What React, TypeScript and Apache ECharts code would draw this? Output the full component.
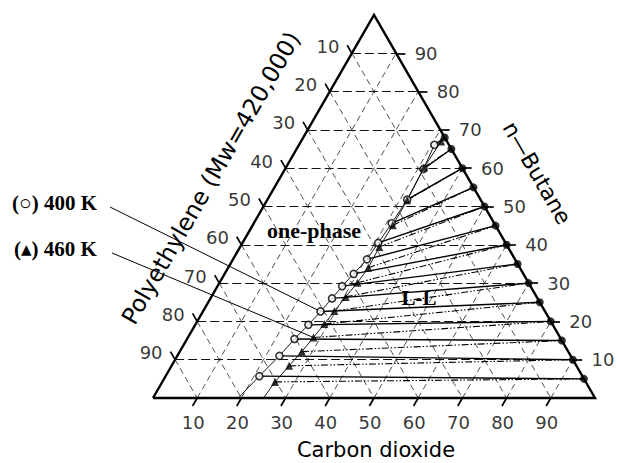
import { useEffect, useRef } from "react";
import * as echarts from "echarts";

// Axis levels (mass %) for grid lines, ticks and tick labels
const gridLevels = [10, 20, 30, 40, 50, 60, 70, 80, 90];
const tickLabels = ["10", "20", "30", "40", "50", "60", "70", "80", "90"];

// Polymer-lean phase (mass %): n-butane and carbon dioxide
const leanButane = [5, 10, 15, 20, 25, 30, 35, 40, 45, 50, 55, 60, 65, 68];
const leanCO2 = [95, 90, 85, 80, 75, 70, 65, 60, 55, 50, 45, 40, 35, 32];

// Polymer-rich phase at 400 K (mass %)
const rich400Butane = [5.7, 11.0, 15.4, 19.1, 22.6, 26.0, 29.2, 32.4, 36.2, 40.5, 45.6, 51.8, 59.8, 66.1];
const rich400CO2 = [21.2, 23.1, 24.3, 25.6, 26.6, 27.5, 28.2, 29.2, 30.3, 30.7, 31.2, 31.6, 31.3, 30.6];

// Polymer-rich phase at 460 K (mass %)
const rich460Butane = [4.2, 8.4, 12.1, 15.8, 19.3, 22.7, 26.4, 30.1, 34.0, 39.4, 45.1, 51.6, 60.2, 67.0];
const rich460CO2 = [25.5, 26.6, 27.6, 28.4, 29.1, 29.7, 30.4, 31.2, 31.7, 31.5, 31.7, 31.7, 31.2, 31.7];

// Where each binodal meets the polyethylene–CO2 edge (CO2 mass %)
const edge400CO2 = 19.3;
const edge460CO2 = 25.0;

const H = Math.sqrt(3) / 2;
// (n-butane %, CO2 %) -> cartesian position inside the unit triangle
const toXY = (b: number, c: number): [number, number] => [(c + b / 2) / 100, (b / 100) * H];

const TICK = 0.021;
const AXIS_FONT = '"DejaVu Sans", sans-serif';
const SERIF = '"Liberation Serif", "DejaVu Serif", serif';

function buildOption() {
  const butaneLines = gridLevels.map((k) => ({ coords: [toXY(k, 0), toXY(k, 100 - k)] }));
  const slantLines = [
    ...gridLevels.map((k) => ({ coords: [toXY(100 - k, 0), toXY(0, 100 - k)] })),
    ...gridLevels.map((k) => ({ coords: [toXY(0, k), toXY(100 - k, k)] })),
  ];
  const outline = [{ coords: [toXY(0, 0), toXY(0, 100), toXY(100, 0), toXY(0, 0)] }];

  const ticks: { coords: [number, number][] }[] = [];
  gridLevels.forEach((k) => {
    const r = toXY(k, 100 - k);
    ticks.push({ coords: [r, [r[0] + TICK, r[1]]] });
    const l = toXY(100 - k, 0);
    ticks.push({ coords: [l, [l[0] - TICK * 0.5, l[1] + TICK * H]] });
    const d = toXY(0, k);
    ticks.push({ coords: [d, [d[0] - TICK * 0.5, d[1] - TICK * H]] });
  });

  const tie400 = rich400Butane.map((b, i) => ({
    coords: [toXY(b, rich400CO2[i]), toXY(leanButane[i], leanCO2[i])],
  }));
  const tie460 = rich460Butane.map((b, i) => ({
    coords: [toXY(b, rich460CO2[i]), toXY(leanButane[i], leanCO2[i])],
  }));

  const bin400 = [toXY(0, edge400CO2), ...rich400Butane.map((b, i) => toXY(b, rich400CO2[i]))];
  const bin460 = [toXY(0, edge460CO2), ...rich460Butane.map((b, i) => toXY(b, rich460CO2[i]))];

  const labelSeries = (
    name: string,
    pts: [number, number][],
    offset: [number, number]
  ) => ({
    type: "scatter",
    name,
    symbolSize: 1,
    itemStyle: { color: "rgba(0,0,0,0)" },
    clip: false,
    silent: true,
    z: 5,
    data: pts.map((p, i) => ({ value: p, name: tickLabels[i] })),
    label: {
      show: true,
      position: "inside",
      offset,
      formatter: (p: any) => p.name,
      color: "#000",
      textBorderWidth: 0,
      fontSize: 18,
      fontFamily: AXIS_FONT,
      align: "center",
      verticalAlign: "middle",
    },
  });

  return {
    animation: false,
    backgroundColor: "#fff",
    grid: { left: 153, right: 22, top: 15, bottom: 65, containLabel: false },
    xAxis: { type: "value", min: 0, max: 1, show: false },
    yAxis: { type: "value", min: 0, max: H, show: false },
    series: [
      {
        type: "lines",
        coordinateSystem: "cartesian2d",
        clip: false,
        silent: true,
        lineStyle: { color: "#111", width: 1.1, type: [9, 4], opacity: 1 },
        data: butaneLines,
      },
      {
        type: "lines",
        coordinateSystem: "cartesian2d",
        clip: false,
        silent: true,
        lineStyle: { color: "#222", width: 0.8, type: [6, 4], opacity: 1 },
        data: slantLines,
      },
      {
        type: "lines",
        coordinateSystem: "cartesian2d",
        clip: false,
        silent: true,
        lineStyle: { color: "#000", width: 1.4, type: "solid", opacity: 1 },
        data: tie400,
      },
      {
        type: "lines",
        coordinateSystem: "cartesian2d",
        clip: false,
        silent: true,
        lineStyle: { color: "#000", width: 1.1, type: [7, 2, 1.5, 2, 1.5, 2], opacity: 1 },
        data: tie460,
      },
      {
        type: "line",
        data: bin400,
        showSymbol: false,
        clip: false,
        silent: true,
        lineStyle: { color: "#000", width: 0.9 },
      },
      {
        type: "line",
        data: bin460,
        showSymbol: false,
        clip: false,
        silent: true,
        lineStyle: { color: "#000", width: 0.9 },
      },
      {
        type: "lines",
        coordinateSystem: "cartesian2d",
        polyline: true,
        clip: false,
        silent: true,
        lineStyle: { color: "#000", width: 2.4, type: "solid", opacity: 1 },
        data: outline,
      },
      {
        type: "lines",
        coordinateSystem: "cartesian2d",
        clip: false,
        silent: true,
        lineStyle: { color: "#000", width: 1.7, type: "solid", opacity: 1 },
        data: ticks,
      },
      {
        type: "scatter",
        name: "polymer-lean",
        symbol: "circle",
        symbolSize: 8,
        clip: false,
        z: 4,
        itemStyle: { color: "#000" },
        data: leanButane.map((b, i) => toXY(b, leanCO2[i])),
      },
      {
        type: "scatter",
        name: "400 K",
        symbol: "circle",
        symbolSize: 7,
        clip: false,
        z: 4,
        itemStyle: { color: "#fff", borderColor: "#000", borderWidth: 1.6 },
        data: rich400Butane.map((b, i) => toXY(b, rich400CO2[i])),
      },
      {
        type: "scatter",
        name: "460 K",
        symbol: "triangle",
        symbolSize: 8,
        clip: false,
        z: 4,
        itemStyle: { color: "#000" },
        data: rich460Butane.map((b, i) => toXY(b, rich460CO2[i])),
      },
      labelSeries("butane-ticks", gridLevels.map((k) => toXY(k, 100 - k)), [30, 0]),
      labelSeries("polymer-ticks", gridLevels.map((k) => toXY(100 - k, 0)), [-24, -7]),
      labelSeries("co2-ticks", gridLevels.map((k) => toXY(0, k)), [-4, 24]),
    ],
  };
}

export default function App() {
  const ref = useRef<HTMLDivElement>(null);

  useEffect(() => {
    document.body.style.margin = "0";
    const chart = echarts.init(ref.current!, null, { renderer: "svg" });
    chart.setOption(buildOption() as any);

    const p400 = chart.convertToPixel({ gridIndex: 0 }, toXY(rich400Butane[4], rich400CO2[4])) as number[];
    const p460 = chart.convertToPixel({ gridIndex: 0 }, toXY(rich460Butane[3], rich460CO2[3])) as number[];

    chart.setOption({
      graphic: [
        {
          type: "text",
          x: 376,
          y: 450,
          style: { text: "Carbon dioxide", fontSize: 21, fontFamily: AXIS_FONT, fill: "#000", align: "center", verticalAlign: "middle" },
        },
        {
          type: "text",
          x: 537,
          y: 173,
          rotation: -Math.PI / 3,
          style: { text: "n\u2014Butane", fontSize: 22, fontFamily: AXIS_FONT, fill: "#000", align: "center", verticalAlign: "middle" },
        },
        {
          type: "text",
          x: 211,
          y: 178,
          rotation: Math.PI / 3,
          style: { text: "Polyethylene (Mw=420,000)", fontSize: 23.5, fontFamily: AXIS_FONT, fill: "#000", align: "center", verticalAlign: "middle" },
        },
        {
          type: "text",
          x: 314,
          y: 230,
          style: { text: "one-phase", fontSize: 22, fontWeight: "bold", fontFamily: SERIF, fill: "#000", align: "center", verticalAlign: "middle" },
        },
        {
          type: "text",
          x: 419,
          y: 298,
          style: { text: "L-L", fontSize: 21, fontWeight: "bold", fontFamily: SERIF, fill: "#000", align: "center", verticalAlign: "middle" },
        },
        {
          type: "text",
          x: 12,
          y: 203,
          style: { text: "(\u25CB) 400 K", fontSize: 21, fontWeight: "bold", fontFamily: SERIF, fill: "#000", align: "left", verticalAlign: "middle" },
        },
        {
          type: "text",
          x: 14,
          y: 249,
          style: { text: "(\u25B4) 460 K", fontSize: 21, fontWeight: "bold", fontFamily: SERIF, fill: "#000", align: "left", verticalAlign: "middle" },
        },
        {
          type: "line",
          shape: { x1: 110, y1: 207, x2: p400[0], y2: p400[1] },
          style: { stroke: "#000", lineWidth: 1 },
          z: 1,
        },
        {
          type: "line",
          shape: { x1: 112, y1: 253, x2: p460[0], y2: p460[1] },
          style: { stroke: "#000", lineWidth: 1 },
          z: 1,
        },
      ],
    });

    return () => chart.dispose();
  }, []);

  return <div ref={ref} style={{ width: 617, height: 463 }} />;
}
